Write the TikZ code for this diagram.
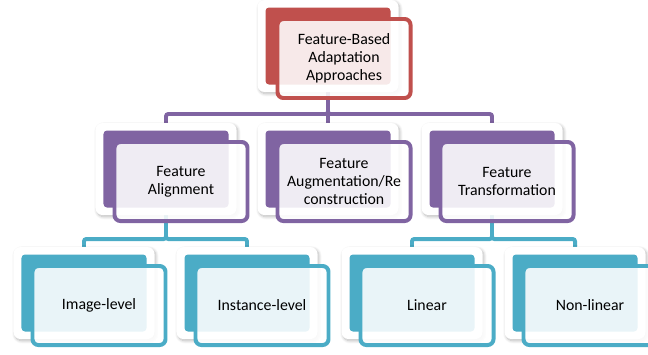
\documentclass[tikz,border=0pt]{standalone}
\usepackage{fontspec}
\setmainfont{Carlito}
\usetikzlibrary{backgrounds,shadows.blur}
\definecolor{redacc}{HTML}{C0504D}
\definecolor{purpacc}{HTML}{8064A2}
\definecolor{cyanacc}{HTML}{4BACC6}

\begin{document}
\begin{tikzpicture}[x=0.03cm,y=0.03cm,
    card/.style={fill=white,rounded corners=6pt,minimum width=4.23cm,minimum height=2.76cm,inner sep=0pt,
      blur shadow={shadow xshift=1.2pt,shadow yshift=-1.5pt,shadow blur radius=2.5pt,shadow blur steps=8,shadow opacity=28}},
    fillbox/.style={fill=#1,rounded corners=3pt,minimum width=3.75cm,minimum height=2.31cm,inner sep=0pt},
    outbox/.style={draw=#1,line width=3.4pt,fill=white,fill opacity=0.88,text opacity=1,rounded corners=5pt,
      minimum width=3.99cm,minimum height=2.37cm,inner sep=0pt,align=center,
      font=\fontsize{13.5}{15.5}\selectfont},
    conn/.style={draw=#1,line width=3.4pt,rounded corners=2pt}]
    \useasboundingbox (0,0) rectangle (648,-354);

    % livello 1
    \node[card] (topc) at (328,-46) {};
    \node[fillbox=redacc] (topf) at (topc) {};
    \node[outbox=redacc] (top) at ([shift={(16,-12.5)}]topc) {Feature-Based\\Adaptation\\Approaches};

    % livello 2
    \node[card] (alic) at (166,-169) {};
    \node[fillbox=purpacc] (alif) at (alic) {};
    \node[outbox=purpacc] (ali) at ([shift={(15,-12.5)}]alic) {Feature\\Alignment};

    \node[card] (augc) at (328,-169) {};
    \node[fillbox=purpacc] (augf) at (augc) {};
    \node[outbox=purpacc] (aug) at ([shift={(16,-12.5)}]augc) {Feature\\Augmentation/Re\\construction};

    \node[card] (trac) at (492,-169) {};
    \node[fillbox=purpacc] (traf) at (trac) {};
    \node[outbox=purpacc] (tra) at ([shift={(15,-12.5)}]trac) {Feature\\Transformation};

    % livello 3
    \node[card] (imgc) at (84,-293) {};
    \node[fillbox=cyanacc] (imgf) at (imgc) {};
    \node[outbox=cyanacc] (img) at ([shift={(15,-12.5)}]imgc) {Image-level};

    \node[card] (insc) at (247,-293) {};
    \node[fillbox=cyanacc] (insf) at (insc) {};
    \node[outbox=cyanacc] (ins) at ([shift={(15,-12.5)}]insc) {Instance-level};

    \node[card] (linc) at (412,-293) {};
    \node[fillbox=cyanacc] (linf) at (linc) {};
    \node[outbox=cyanacc] (lin) at ([shift={(15,-12.5)}]linc) {Linear};

    \node[card] (nonc) at (575,-293) {};
    \node[fillbox=cyanacc] (nonf) at (nonc) {};
    \node[outbox=cyanacc] (non) at ([shift={(15,-12.5)}]nonc) {Non-linear};

    % connettori
    \coordinate (bar1) at (0,-114);
    \coordinate (bar2) at (0,-239);
    \begin{scope}[on background layer]
        \draw[conn=purpacc] (topc) -- (topc |- bar1) -| (alic);
        \draw[conn=purpacc] (topc) -- (augc);
        \draw[conn=purpacc] (topc) -- (topc |- bar1) -| (trac);

        \draw[conn=cyanacc] (alic) -- (alic |- bar2) -| (imgc);
        \draw[conn=cyanacc] (alic) -- (alic |- bar2) -| (insc);
        \draw[conn=cyanacc] (trac) -- (trac |- bar2) -| (linc);
        \draw[conn=cyanacc] (trac) -- (trac |- bar2) -| (nonc);
    \end{scope}

\end{tikzpicture}
\end{document}
